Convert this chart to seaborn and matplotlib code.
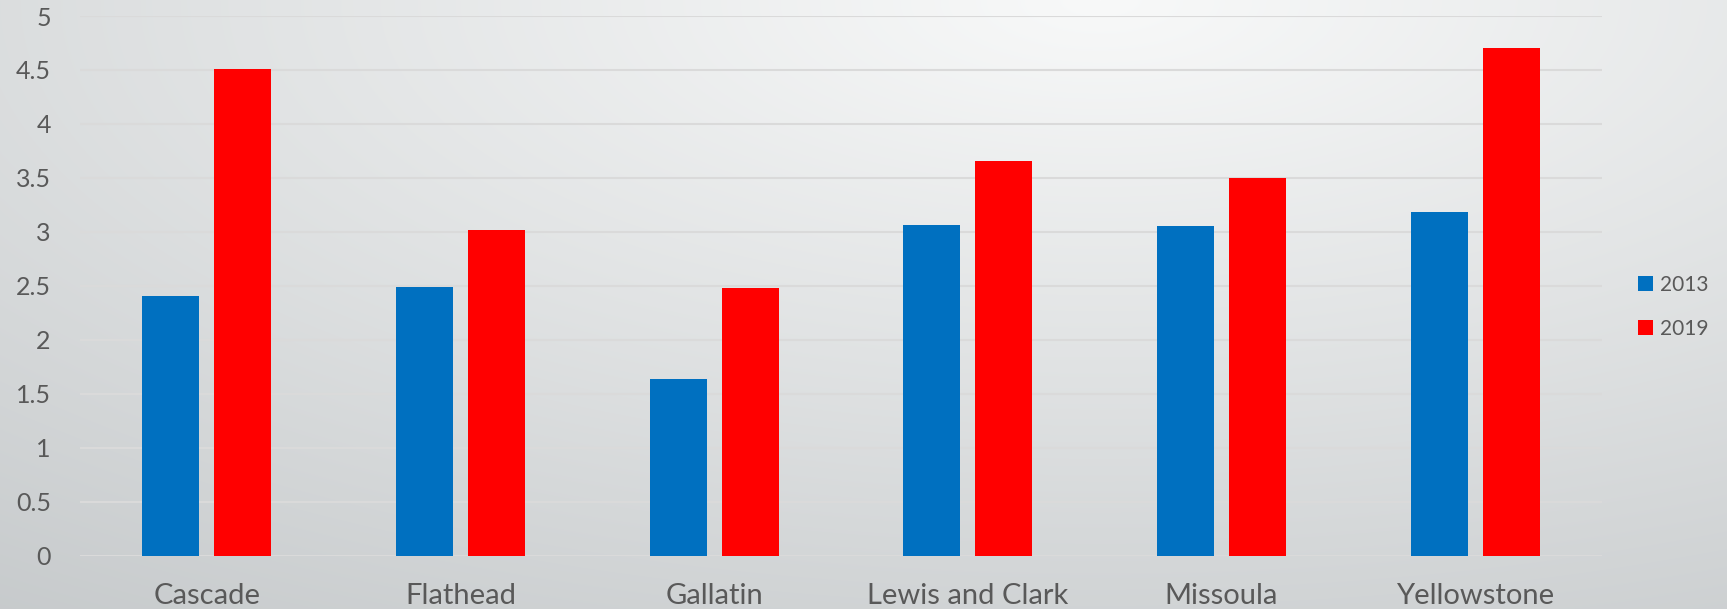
import numpy as np
import pandas as pd
import matplotlib
matplotlib.use('Agg')
import matplotlib.pyplot as plt
import seaborn as sns

counties = ['Cascade', 'Flathead', 'Gallatin', 'Lewis and Clark', 'Missoula', 'Yellowstone']
vals_2013 = [2.41, 2.49, 1.64, 3.06, 3.05, 3.18]
vals_2019 = [4.51, 3.02, 2.48, 3.66, 3.50, 4.70]
years = ['2013', '2019']
colors = ['#0070C0', '#FF0000']

data = pd.DataFrame({
    'county': counties * 2,
    'year': [years[0]] * len(counties) + [years[1]] * len(counties),
    'value': vals_2013 + vals_2019,
})

sns.set_theme(style='white')
plt.rcParams['font.family'] = ['Lato', 'DejaVu Sans']

fig = plt.figure(figsize=(17.27, 6.09), dpi=100)

# gradient background
W, H = 1727, 609
xx, yy = np.meshgrid(np.arange(W), np.arange(H))
d = np.clip(np.sqrt(((xx - 1100) / 2200) ** 2 + (yy / 900) ** 2), 0, 1)
light = np.array([248, 249, 249]) / 255
dark = np.array([190, 194, 196]) / 255
bg = light[None, None, :] * (1 - d[..., None]) + dark[None, None, :] * d[..., None]
bg_ax = fig.add_axes([0, 0, 1, 1], zorder=-1)
bg_ax.imshow(bg, aspect='auto')
bg_ax.axis('off')

ax = fig.add_axes([80 / W, 1 - 555.7 / H, (1602 - 80) / W, (555.7 - 16) / H])
ax.patch.set_alpha(0)

sns.barplot(data=data, x='county', y='value', hue='year', palette=colors,
            width=0.5676, gap=0.208, ax=ax, saturation=1, linewidth=0)

ax.set_ylim(0, 5)
ax.set_xlim(-0.5, len(counties) - 0.5)
ax.set_yticks(np.arange(0, 5.01, 0.5))
ax.set_yticklabels(['0', '0.5', '1', '1.5', '2', '2.5', '3', '3.5', '4', '4.5', '5'])
ax.yaxis.grid(True, color='#dadada', linewidth=1.5)
ax.set_axisbelow(True)
for s in ax.spines.values():
    s.set_visible(False)
ax.set_xlabel('')
ax.set_ylabel('')
ax.tick_params(axis='y', length=0, pad=21, labelsize=18, labelcolor='#595959')
ax.tick_params(axis='x', length=0, pad=20, labelsize=21, labelcolor='#595959')

ax.legend(loc='center left', bbox_to_anchor=(1638 / W, 1 - 307 / H),
          bbox_transform=fig.transFigure, frameon=False, fontsize=15,
          handlelength=0.72, handleheight=0.72, handletextpad=0.34,
          labelspacing=1.15, borderpad=0, borderaxespad=0, labelcolor='#595959')

fig.savefig('out.png', dpi=100)
